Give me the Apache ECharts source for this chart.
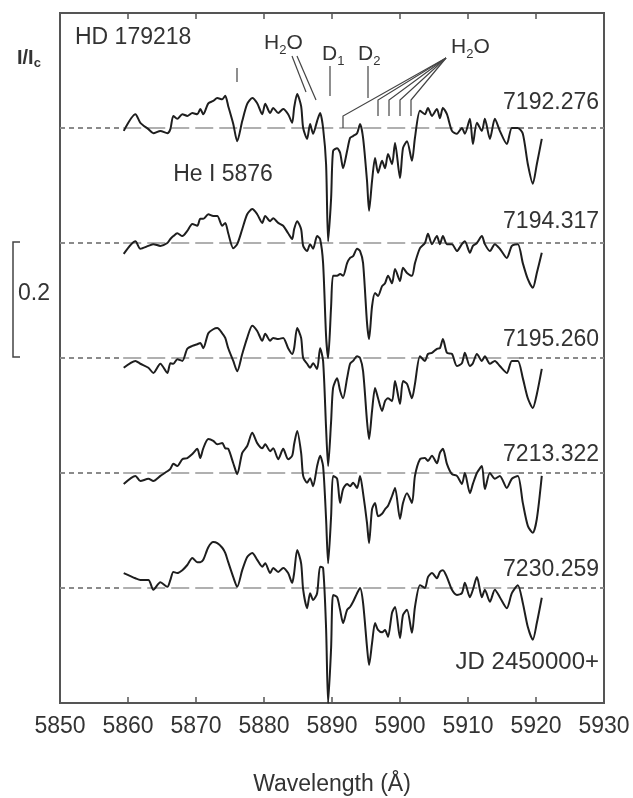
<!DOCTYPE html>
<html><head><meta charset="utf-8">
<script src="https://cdn.jsdelivr.net/npm/echarts@6/dist/echarts.min.js"></script>
<style>html,body{margin:0;padding:0;background:#fff}#c{width:633px;height:798px}</style>
</head><body><div id="c"></div>
<script>
// Shared wavelength grid (Å)
const wavelength = [5859.37,5861.09,5861.82,5863.00,5863.73,5864.76,5865.79,5866.23,5866.67,5867.25,
5867.99,5868.72,5869.46,5870.19,5870.63,5871.07,5871.81,5872.54,5873.13,5873.86,
5874.30,5874.74,5875.48,5876.06,5876.80,5877.53,5878.27,5879.00,5879.74,5880.18,
5880.91,5881.35,5882.09,5882.82,5883.55,5884.14,5884.43,5884.88,5885.46,5885.76,
5886.34,5886.78,5887.22,5887.81,5888.25,5888.69,5889.13,5889.43,5889.87,5890.16,
5890.75,5891.19,5891.63,5892.22,5892.66,5893.10,5893.69,5894.13,5894.57,5895.15,
5895.45,5895.89,5896.33,5896.77,5897.36,5897.80,5898.24,5898.83,5899.27,5900.00,
5900.44,5901.03,5901.76,5902.20,5902.94,5903.67,5904.11,5904.70,5905.43,5905.87,
5906.31,5906.90,5907.64,5908.37,5909.10,5909.54,5910.28,5910.72,5911.31,5912.04,
5912.48,5913.22,5913.95,5914.68,5915.71,5916.45,5917.33,5918.06,5918.80,5919.53,
5920.12,5920.85];

// Normalised intensity I/Ic for each epoch
const flux7192 = [0.995,1.024,1.009,0.998,0.991,0.995,0.991,0.998,1.021,1.016,
1.024,1.021,1.026,1.024,1.033,1.024,1.043,1.047,1.052,1.050,
1.056,1.038,1.007,0.977,1.012,1.042,1.052,1.043,1.024,1.042,
1.026,1.035,1.026,1.033,1.024,1.009,1.035,1.059,1.038,1.000,
0.981,1.007,0.990,1.012,1.026,1.000,0.937,0.803,0.878,0.960,
0.965,0.957,0.930,0.960,0.983,0.986,0.991,1.007,0.983,0.908,
0.856,0.908,0.948,0.922,0.943,0.930,0.955,0.937,0.974,0.913,
0.965,0.977,0.943,0.983,1.030,1.024,1.035,1.021,1.033,1.017,
1.035,1.024,0.995,0.990,1.000,0.990,1.016,0.972,1.009,0.995,
1.016,0.981,1.016,0.995,0.972,1.000,1.000,0.990,0.937,0.903,
0.937,0.981];
const flux7194 = [0.981,1.003,0.990,0.995,0.998,0.995,1.000,1.007,1.012,1.017,
1.012,1.021,1.033,1.030,1.042,1.042,1.050,1.047,1.047,1.030,
1.035,1.017,0.991,0.998,1.024,1.050,1.059,1.050,1.035,1.047,
1.038,1.043,1.035,1.030,1.017,1.007,1.024,1.038,1.024,0.995,
0.986,0.998,0.990,1.012,1.007,0.965,0.838,0.800,0.890,0.943,
0.943,0.946,0.943,0.965,0.974,0.977,0.990,0.986,0.965,0.861,
0.833,0.890,0.913,0.908,0.925,0.930,0.943,0.930,0.955,0.934,
0.957,0.948,0.943,0.965,0.991,1.000,1.016,0.998,1.012,0.998,
1.012,0.998,0.998,0.986,0.998,1.003,0.983,0.995,1.000,1.012,
0.998,0.986,0.998,0.990,0.974,0.995,0.998,0.965,0.937,0.922,
0.948,0.983];
const flux7195 = [0.983,0.995,0.990,0.983,0.974,0.990,0.974,0.991,0.990,0.998,
0.995,1.016,1.021,1.024,1.026,1.017,1.043,1.050,1.052,1.043,
1.035,1.017,0.995,0.977,1.007,1.035,1.056,1.047,1.030,1.042,
1.030,1.035,1.033,1.035,1.017,1.007,1.017,1.052,1.035,1.000,
0.990,0.983,0.991,0.981,1.017,0.995,0.878,0.812,0.890,0.948,
0.965,0.943,0.930,0.965,0.990,0.995,1.003,1.000,0.977,0.890,
0.859,0.908,0.948,0.930,0.908,0.925,0.930,0.925,0.960,0.920,
0.960,0.955,0.930,0.955,1.003,0.995,1.007,1.009,1.016,1.017,
1.033,1.009,1.007,0.986,0.991,1.009,0.986,0.991,1.007,0.995,
1.003,0.990,0.995,0.986,0.974,0.995,0.995,0.965,0.930,0.913,
0.937,0.981];
const flux7213 = [0.981,0.995,0.986,0.990,0.986,0.995,1.003,1.007,1.016,1.012,
1.024,1.026,1.033,1.042,1.026,1.043,1.059,1.056,1.050,1.052,
1.043,1.042,1.017,0.998,1.035,1.047,1.070,1.052,1.043,1.050,
1.038,1.043,1.024,1.042,1.024,1.030,1.050,1.073,1.035,0.995,
0.983,0.991,0.977,1.012,1.030,1.012,0.920,0.843,0.925,0.995,
0.990,0.948,0.972,0.981,0.977,0.983,0.974,0.995,0.965,0.913,
0.878,0.937,0.948,0.925,0.929,0.937,0.943,0.960,0.974,0.920,
0.948,0.965,0.948,0.995,1.024,1.026,1.021,1.030,1.017,1.035,
1.042,1.016,0.998,0.995,0.981,1.000,0.965,0.981,1.000,1.012,
0.972,1.000,0.990,0.995,0.974,0.990,0.995,0.948,0.908,0.896,
0.920,0.995];
const flux7230 = [1.026,1.017,1.014,1.014,0.997,1.010,1.002,1.014,1.028,1.026,
1.031,1.040,1.052,1.045,1.045,1.049,1.071,1.080,1.078,1.070,
1.061,1.045,1.019,1.002,1.031,1.054,1.061,1.049,1.037,1.043,
1.026,1.035,1.028,1.035,1.026,1.009,1.026,1.066,1.043,0.997,
0.965,0.991,0.979,0.991,1.037,1.035,0.930,0.800,0.896,0.988,
0.984,0.962,0.939,0.962,0.967,0.976,0.991,1.000,0.974,0.897,
0.866,0.904,0.939,0.927,0.923,0.927,0.915,0.957,0.967,0.913,
0.953,0.962,0.922,0.967,1.005,1.000,1.019,1.026,1.017,1.028,
1.031,1.019,0.997,0.988,0.991,1.009,0.984,0.997,1.019,0.984,
0.997,0.976,0.997,0.984,0.965,0.991,1.005,0.974,0.932,0.910,
0.939,0.983];

const epochs = ['7192.276','7194.317','7195.260','7213.322','7230.259'];
const offsets = [0.8, 0.6, 0.4, 0.2, 0.0];
const fluxes = [flux7192, flux7194, flux7195, flux7213, flux7230];
const xMin = 5850, xMax = 5930, xStep = 10;
const dashBreaks = [5859.3, 5917.5];

const FONT = '"Liberation Sans", Arial, sans-serif';
const TXT = '#333';
const chart = echarts.init(document.getElementById('c'), null, {renderer: 'canvas'});

const series = [];
offsets.forEach((off) => {
  const c = 1 + off;
  const segs = [[xMin, dashBreaks[0], [5, 4], '#8a8a8a'], [dashBreaks[0], dashBreaks[1], [18, 6], '#b0b0b0'], [dashBreaks[1], xMax, [5, 4], '#8a8a8a']];
  segs.forEach(s => {
    series.push({type: 'line', data: [[s[0], c], [s[1], c]], symbol: 'none', silent: true, z: 1,
      lineStyle: {color: s[3], width: 2, type: s[2]}});
  });
});
fluxes.forEach((f, i) => {
  series.push({type: 'line', name: epochs[i], data: wavelength.map((w, j) => [w, +(f[j] + offsets[i]).toFixed(4)]),
    symbol: 'none', smooth: 0.25, z: 3, clip: true,
    lineStyle: {color: '#1e1e1e', width: 2}});
});

const rich = {a: {fontFamily: FONT, fontSize: 21, color: TXT, lineHeight: 24, verticalAlign: 'bottom'},
              b: {fontFamily: FONT, fontSize: 13, color: TXT, lineHeight: 24, verticalAlign: 'bottom', padding: [0, 0, -3, 0]}};

const graphic = [];
function T(x, y, text, align, size) {
  graphic.push({type: 'text', x: x, y: y, z: 10, style: {text: text, textAlign: align || 'left', textVerticalAlign: 'middle', font: (size || 22) + 'px ' + FONT, fill: TXT}});
}
function R(x, y, text, r) {
  graphic.push({type: 'text', x: x, y: y, z: 10, style: {text: text, rich: r || rich, textVerticalAlign: 'middle', fill: TXT}});
}
function L(points, w) {
  graphic.push({type: 'polyline', z: 10, shape: {points: points}, style: {stroke: '#444', lineWidth: w || 1.2, fill: null}});
}
// y-axis label I/Ic
R(17, 57, '{a|I/I}{b|c}', {a: {fontFamily: FONT, fontSize: 20, fontWeight: 'bold', color: TXT, lineHeight: 22, verticalAlign: 'bottom'}, b: {fontFamily: FONT, fontSize: 13, fontWeight: 'bold', color: TXT, lineHeight: 22, verticalAlign: 'bottom', padding: [0, 0, -2, 0]}});
T(75, 38, 'HD 179218', 'left', 23);
R(264, 42, '{a|H}{b|2}{a|O}');
R(322, 53, '{a|D}{b|1}');
R(358, 53, '{a|D}{b|2}');
R(451, 46, '{a|H}{b|2}{a|O}');
T(223, 175, 'He I 5876', 'center', 23);
T(599, 662, 'JD 2450000+', 'right', 24);
const labelY = [103, 222, 340, 455, 570];
epochs.forEach((e, i) => T(599, labelY[i], e, 'right', 23));
// scale bar 0.2
L([[20, 242], [13, 242], [13, 357], [20, 357]], 1.5);
T(18, 294, '0.2', 'left', 23);
// line markers
L([[237, 68], [237, 82]]);
L([[292, 56], [306, 92]]);
L([[297, 56], [316, 100]]);
L([[330, 66], [330, 96]]);
L([[368, 66], [368, 98]]);
const apex = [446, 58];
L([apex, [343, 116], [343, 128]]);
[378, 389, 400, 411].forEach(x => L([apex, [x, 100], [x, 116]]));

const option = {
  animation: false,
  backgroundColor: '#fff',
  grid: {left: 60, right: 29, top: 13, bottom: 95, show: true, borderColor: '#555', borderWidth: 2, backgroundColor: 'transparent', containLabel: false, outerBoundsMode: 'none'},
  xAxis: [
    {type: 'value', min: xMin, max: xMax, interval: xStep, position: 'bottom',
     name: 'Wavelength (Å)', nameLocation: 'middle', nameGap: 70,
     nameTextStyle: {fontFamily: FONT, fontSize: 23, color: TXT},
     axisLine: {show: true, lineStyle: {color: '#555', width: 2}},
     axisTick: {show: true, inside: true, length: 6, lineStyle: {color: '#555', width: 1.5}},
     axisLabel: {fontFamily: FONT, fontSize: 23, color: TXT, margin: 12, formatter: v => String(v)},
     splitLine: {show: false}},
    {type: 'value', min: xMin, max: xMax, interval: xStep, position: 'top',
     axisLine: {show: true, lineStyle: {color: '#555', width: 2}},
     axisTick: {show: true, inside: true, length: 6, lineStyle: {color: '#555', width: 1.5}},
     axisLabel: {show: false}, splitLine: {show: false}}
  ],
  yAxis: {type: 'value', min: 0.8, max: 2.0, axisLabel: {show: false}, axisTick: {show: false},
          axisLine: {show: true, lineStyle: {color: '#555', width: 2}}, splitLine: {show: false}},
  series: series,
  graphic: graphic
};
chart.setOption(option);
</script></body></html>
